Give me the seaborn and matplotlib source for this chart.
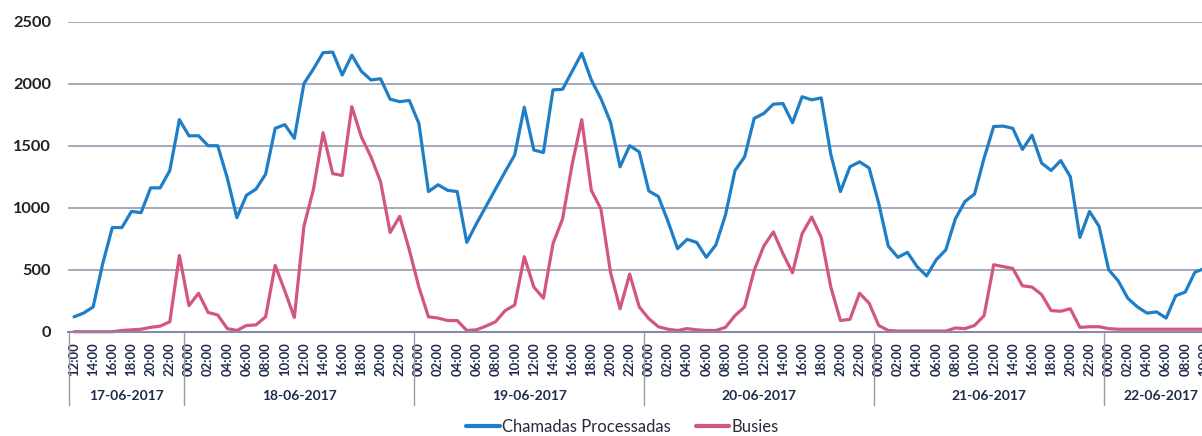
import matplotlib
matplotlib.use("Agg")
import matplotlib.pyplot as plt
import numpy as np
import pandas as pd
import seaborn as sns

# Hourly series, starting 17-06-2017 12:00
chamadas = [
    120, 150, 200, 550, 840, 840, 970, 960, 1160, 1160, 1300, 1710,            # 17-06 12h-23h
    1580, 1580, 1500, 1500, 1240, 920, 1100, 1150, 1270, 1640, 1670, 1560,     # 18-06
    2000, 2120, 2250, 2255, 2070, 2230, 2100, 2030, 2040, 1875, 1855, 1865,
    1680, 1130, 1185, 1140, 1130, 720, 870, 1010, 1150, 1290, 1425, 1810,      # 19-06
    1465, 1445, 1950, 1955, 2100, 2245, 2030, 1880, 1690, 1330, 1500, 1450,
    1135, 1090, 890, 670, 745, 720, 600, 700, 940, 1300, 1410, 1720,           # 20-06
    1760, 1835, 1840, 1685, 1895, 1870, 1885, 1430, 1130, 1330, 1370, 1320,
    1035, 690, 600, 640, 525, 450, 580, 660, 910, 1050, 1110, 1400,            # 21-06
    1655, 1658, 1640, 1470, 1585, 1360, 1300, 1380, 1250, 760, 970, 850,
    500, 410, 270, 200, 150, 160, 110, 290, 320, 480, 510, 560,                # 22-06 0h-11h
]
busies = [
    0, 0, 0, 0, 0, 10, 15, 20, 35, 45, 80, 615,
    210, 310, 155, 135, 25, 10, 50, 55, 120, 535, 330, 115,
    850, 1150, 1605, 1275, 1260, 1815, 1570, 1410, 1210, 800, 930, 660,
    360, 120, 110, 90, 90, 10, 15, 45, 80, 170, 215, 605,
    360, 270, 710, 910, 1350, 1710, 1140, 990, 480, 185, 465, 200,
    105, 40, 20, 10, 25, 15, 10, 10, 35, 130, 200, 495,
    690, 805, 630, 475, 790, 925, 760, 360, 90, 100, 310, 230,
    50, 10, 5, 5, 5, 5, 5, 5, 30, 25, 50, 130,
    540, 525, 510, 370, 360, 300, 170, 165, 185, 35, 40, 40,
    25, 20, 20, 20, 20, 20, 20, 20, 20, 20, 20, 20,
]
series_names = ["Chamadas Processadas", "Busies"]
series_colors = ["#1f7ec6", "#d3577d"]
y_ticks = [0, 500, 1000, 1500, 2000, 2500]

stamps = pd.date_range("2017-06-17 12:00", periods=len(chamadas), freq="h")
hour_labels = [t.strftime("%H:%M") for t in stamps]
day_labels = [t.strftime("%d-%m-2017") for t in stamps]

idx = np.arange(len(stamps))
df = pd.concat([
    pd.DataFrame({"idx": idx, "valor": chamadas, "serie": series_names[0]}),
    pd.DataFrame({"idx": idx, "valor": busies, "serie": series_names[1]}),
])

sns.set_theme(style="white")
plt.rcParams["font.family"] = ["Lato", "DejaVu Sans"]

W, H = 1202, 436
fig = plt.figure(figsize=(W / 100, H / 100), dpi=100)
left_px, right_px, top_px, bottom_px = 68, 1250, 21.7, 331.7
ax = fig.add_axes([left_px / W, (H - bottom_px) / H,
                   (right_px - left_px) / W, (bottom_px - top_px) / H])

sns.lineplot(data=df, x="idx", y="valor", hue="serie",
             palette=dict(zip(series_names, series_colors)),
             linewidth=2.3, ax=ax, clip_on=False,
             solid_joinstyle="round", solid_capstyle="round")

hour_px = 9.58
x_min = -(74 - left_px) / hour_px
ax.set_xlim(x_min, x_min + (right_px - left_px) / hour_px)
ax.set_ylim(0, 2500)

navy = "#1f2b4a"
ax.set_yticks(y_ticks)
ax.set_yticklabels([str(v) for v in y_ticks], fontsize=11.8,
                   fontweight="bold", color="#222222")
even = [i for i in idx if stamps[i].hour % 2 == 0]
ax.set_xticks(even)
ax.set_xticklabels([hour_labels[i] for i in even], rotation=90,
                   fontsize=9.4, fontweight="bold", color=navy)
ax.tick_params(axis="x", length=0, pad=7.5)
ax.tick_params(axis="y", length=0, pad=12)
ax.set_xlabel("")
ax.set_ylabel("")

ax.yaxis.grid(True, color="#9a9ab0", linewidth=1.2)
ax.xaxis.grid(False)
for side in ["left", "right", "top"]:
    ax.spines[side].set_visible(False)
ax.spines["bottom"].set_color("#8a8aa6")
ax.spines["bottom"].set_linewidth(1.5)

# Day separators and day names below the hour labels
trans = ax.get_xaxis_transform()
axes_h = bottom_px - top_px
sep_bottom = -(405 - bottom_px) / axes_h
day_y = -(396 - bottom_px) / axes_h
days = list(dict.fromkeys(day_labels))
for d in days:
    members = [i for i in idx if day_labels[i] == d]
    start, end = members[0] - 0.5, members[-1] + 0.5
    ax.plot([start, start], [0, sep_bottom], color="#9a9aa6", lw=1.0,
            transform=trans, clip_on=False)
    ax.text((start + end) / 2, day_y, d, transform=trans, ha="center",
            va="center", fontsize=10, fontweight="bold", color=navy)

legend_x = (622.5 - left_px) / (right_px - left_px)
legend_y = -(427 - bottom_px) / axes_h
sns.move_legend(ax, "center", bbox_to_anchor=(legend_x, legend_y), ncol=2,
                frameon=False, title=None, fontsize=12, handlelength=2.0,
                handletextpad=0.15, columnspacing=1.5)
for txt in ax.get_legend().get_texts():
    txt.set_color("#2a2a3a")
for line in ax.get_legend().get_lines():
    line.set_linewidth(3)

fig.savefig("out.png", dpi=100)
